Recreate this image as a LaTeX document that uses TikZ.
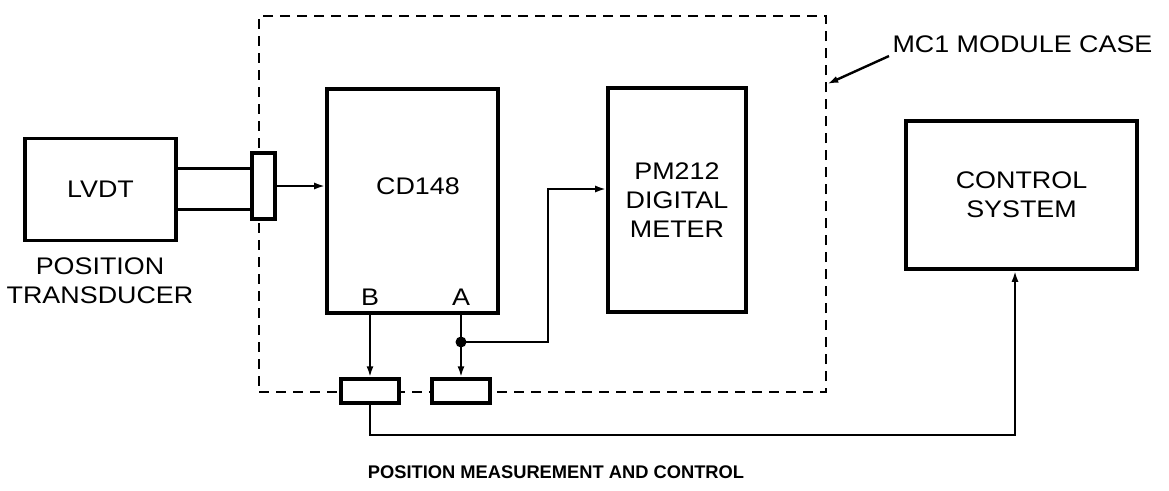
\documentclass[tikz,border=0pt]{standalone}
\usepackage{fontspec}
\setmainfont{Liberation Sans}[FakeStretch=1.12]
\newfontfamily\titlefont{Liberation Sans}
\usetikzlibrary{arrows.meta}

\begin{document}
\begin{tikzpicture}[x=1pt, y=-1pt, >={Latex[length=11pt,width=7pt]},
  blk/.style={draw, line width=3.6pt, inner sep=0pt, align=center,
    font=\fontsize{24}{29}\selectfont},
  plug/.style={draw, line width=3.4pt, fill=white, inner sep=0pt},
  sig/.style={line width=2.8pt},
  lbl/.style={align=center, font=\fontsize{24}{29}\selectfont}]
  \useasboundingbox (0,0) rectangle (1169,490);

  % Module case (dashed outline)
  \node[draw, line width=2.5pt, dash pattern=on 10pt off 7pt,
    minimum width=567pt, minimum height=376pt] (case) at (542.5,204) {};
  \node[lbl, anchor=west] (casename) at (889,44) {MC1 MODULE CASE};
  \coordinate (casept) at (case.east |- 0,84);
  \draw[line width=2.4pt, ->] (casename.south west) -- (casept);

  % Blocks
  \node[blk, minimum width=151pt, minimum height=102pt] (lvdt) at (100.5,189.5) {LVDT};
  \node[lbl] (lvdtname) at (100,281) {POSITION\\TRANSDUCER};
  \node[blk, minimum width=171pt, minimum height=224pt] (cd) at (412.5,201) {};
  \node[lbl] (cdname) at (418,186) {CD148};
  \node[lbl] (outb) at (370,297) {B};
  \node[lbl] (outa) at (461,297) {A};
  \node[blk, minimum width=138pt, minimum height=224pt] (pm) at (677,200) {PM212\\DIGITAL\\METER};
  \node[blk, minimum width=231pt, minimum height=148pt] (ctrl) at (1021.5,195) {CONTROL\\SYSTEM};

  % Plugs on the case wall
  \node[plug, minimum width=23pt, minimum height=66pt] (plugin) at (263.5,186) {};
  \node[plug, minimum width=58pt, minimum height=24pt] (plugb) at (370,391) {};
  \node[plug, minimum width=58pt, minimum height=24pt] (pluga) at (461,391) {};

  % LVDT leads and input
  \draw[sig] ([yshift=21pt]lvdt.east) -- ([yshift=21pt]lvdt.east -| plugin.west);
  \draw[sig] ([yshift=-20pt]lvdt.east) -- ([yshift=-20pt]lvdt.east -| plugin.west);
  \draw[sig, ->] (plugin.east) -- (plugin.east -| cd.west);

  % Outputs B and A
  \draw[sig, ->] (cd.south -| plugb) -- (plugb.north);
  \draw[sig, ->] (cd.south -| pluga) -- (pluga.north);

  % Output A also to the meter
  \coordinate (tap) at (pluga |- 0,342);
  \coordinate (jog) at (548,189);
  \fill (tap) circle (5.5pt);
  \draw[sig, ->] (tap) -| (jog) -- (jog -| pm.west);

  % Output B to control system
  \coordinate (bend) at (1015,435);
  \draw[sig, ->] (plugb.south) |- (bend) -- (bend |- ctrl.south);

  % Caption
  \node[font=\titlefont\fontsize{18.3}{22}\bfseries\selectfont] (title) at (556,472)
    {POSITION MEASUREMENT AND CONTROL};
\end{tikzpicture}
\end{document}
